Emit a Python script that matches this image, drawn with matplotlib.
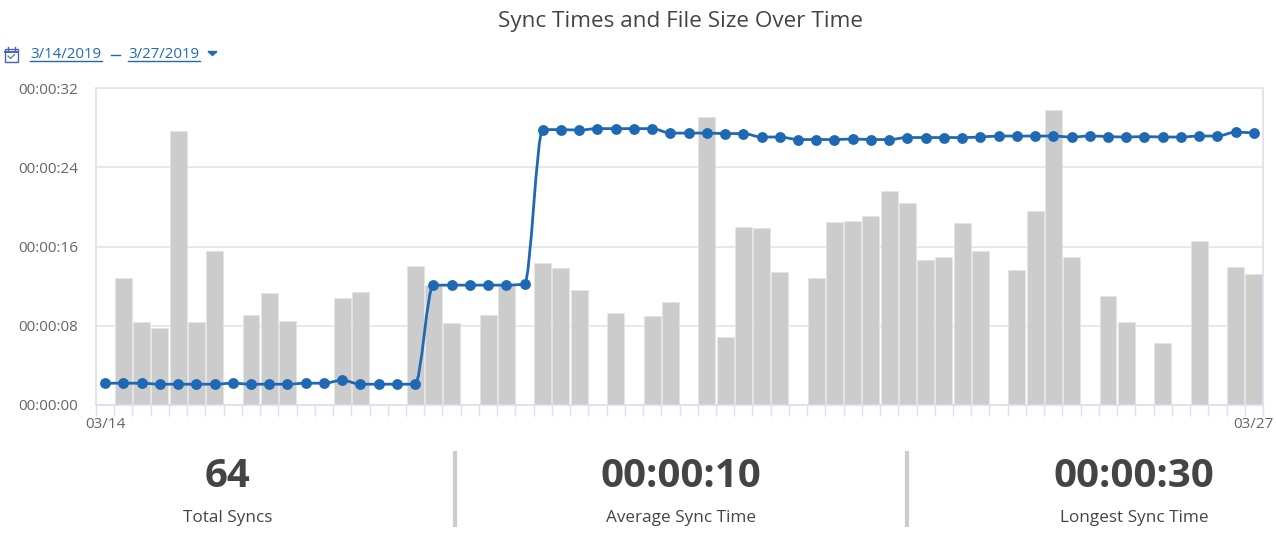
"""Sync times (line) and file size (bars) over time, with summary stats below."""
import numpy as np
import matplotlib
matplotlib.use('Agg')
import matplotlib.pyplot as plt
from matplotlib.patches import PathPatch, Polygon, Rectangle
from matplotlib.path import Path

plt.rcParams['font.family'] = ['Open Sans', 'DejaVu Sans']

W, H = 1276, 535
BLUE = '#1f68b4'
TEXT = '#444444'
AXIS = '#d9dfee'
GRID = '#e6e6e6'

# sync time per run, seconds
sync_times = [2.2, 2.2, 2.2, 2.1, 2.1, 2.1, 2.1, 2.2, 2.1, 2.1, 2.1, 2.2, 2.2, 2.5, 2.1, 2.1,
              2.1, 2.1, 12.1, 12.1, 12.1, 12.1, 12.1, 12.2, 27.8, 27.8, 27.75, 27.9, 27.9, 27.9,
              27.9, 27.45, 27.45, 27.45, 27.4, 27.4, 27.05, 27.05, 26.8, 26.8, 26.8, 26.85, 26.8,
              26.8, 27.0, 27.0, 27.0, 27.0, 27.05, 27.15, 27.15, 27.15, 27.15, 27.05, 27.15, 27.1,
              27.05, 27.1, 27.05, 27.05, 27.15, 27.15, 27.55, 27.45]

# file size per run, scaled to the time axis (0 = no bar)
file_sizes = [0, 12.8, 8.4, 7.8, 27.7, 8.4, 15.5, 0, 9.1, 11.3, 8.5, 0, 0, 10.8, 11.4, 0,
              0, 14.0, 12.1, 8.3, 0, 9.1, 12.1, 0, 14.3, 13.8, 11.6, 0, 9.3, 0,
              9.0, 10.4, 0, 29.1, 6.9, 18.0, 17.9, 13.4, 0, 12.8, 18.5, 18.6, 19.1,
              21.6, 20.4, 14.6, 14.9, 18.4, 15.5, 0, 13.6, 19.6, 29.8, 14.9, 0, 11.0,
              8.4, 0, 6.3, 0, 16.6, 0, 13.9, 13.2]

y_ticks = [0, 8, 16, 24, 32]
y_tick_labels = ['00:00:00', '00:00:08', '00:00:16', '00:00:24', '00:00:32']
x_tick_labels = ['03/14', '03/27']
stat_values = ['64', '00:00:10', '00:00:30']
stat_names = ['Total Syncs', 'Average Sync Time', 'Longest Sync Time']


def monotone_path(x, y):
    """Monotone cubic through the points, as bezier segments."""
    x, y = np.asarray(x, float), np.asarray(y, float)
    slope = np.diff(y) / np.diff(x)
    tan = np.zeros_like(y)
    for i in range(1, len(y) - 1):
        if slope[i - 1] * slope[i] > 0:
            tan[i] = 2 * slope[i - 1] * slope[i] / (slope[i - 1] + slope[i])
    tan[0], tan[-1] = slope[0], slope[-1]
    verts, codes = [(x[0], y[0])], [Path.MOVETO]
    for i in range(len(x) - 1):
        h = (x[i + 1] - x[i]) / 3
        verts += [(x[i] + h, y[i] + h * tan[i]), (x[i + 1] - h, y[i + 1] - h * tan[i + 1]), (x[i + 1], y[i + 1])]
        codes += [Path.CURVE4] * 3
    return Path(verts, codes)


fig = plt.figure(figsize=(W / 100, H / 100), dpi=100, facecolor='white')

# ── Main chart ────────────────────────────────────────────────────────────────
ax = fig.add_axes([96 / W, 1 - 405 / H, (1263 - 96) / W, (405 - 88) / H])
xs = np.arange(len(sync_times))

ax.bar(xs, file_sizes, width=0.93, color='#cccccc', edgecolor='#e4e4e4', linewidth=0.6, zorder=2)
ax.add_patch(PathPatch(monotone_path(xs, sync_times), fill=False, edgecolor=BLUE, linewidth=2.0, zorder=3))
ax.plot(xs, sync_times, linestyle='none', marker='o', markersize=7.8, color=BLUE,
        markeredgewidth=0, zorder=4)

ax.set_xlim(-0.5, 63.5)
ax.set_ylim(0, 32)
ax.set_yticks(y_ticks, y_tick_labels)
ax.set_xticks([0, 63], x_tick_labels)
ax.set_xticks(np.arange(-0.5, 64), minor=True)
ax.grid(True, axis='y', color=GRID, linewidth=1.3, zorder=0)
ax.set_axisbelow(True)
ax.tick_params(axis='y', length=0, pad=13, labelsize=11, labelcolor='#666666')
ax.tick_params(axis='x', which='major', length=0, pad=9, labelsize=11, labelcolor='#666666')
ax.tick_params(axis='x', which='minor', length=8, width=1, color=AXIS)
for side in ['left', 'right', 'bottom']:
    ax.spines[side].set_color(AXIS)
    ax.spines[side].set_linewidth(1.2)
ax.spines['top'].set_color(GRID)
ax.spines['top'].set_linewidth(1.2)

# ── Page furniture, drawn in pixel coordinates ────────────────────────────────
page = fig.add_axes([0, 0, 1, 1], zorder=-1)
page.set_xlim(0, W)
page.set_ylim(H, 0)
page.axis('off')

page.text(681, 22, 'Sync Times and File Size Over Time', ha='center', va='center', fontsize=16.2, color=TEXT)

# date range row
page.text(30, 55, '3/14/2019', ha='left', va='center', fontsize=10.8, color=BLUE)
page.plot([111, 120], [54.5, 54.5], color=BLUE, linewidth=1)
page.text(128, 55, '3/27/2019', ha='left', va='center', fontsize=10.8, color=BLUE)
page.plot([30, 102], [60.5, 60.5], color=BLUE, linewidth=1)
page.plot([128, 200], [60.5, 60.5], color=BLUE, linewidth=1)
page.add_patch(Polygon([(208, 51.5), (217, 51.5), (212.5, 55.5)], closed=True, color=BLUE))

# calendar icon
page.add_patch(Rectangle((5, 49), 12.5, 12.5, fill=False, edgecolor='#4b62b0', linewidth=1))
page.plot([5, 17.5], [52, 52], color='#4b62b0', linewidth=1.4)
page.plot([8, 8], [47, 50], color='#4b62b0', linewidth=1)
page.plot([14.5, 14.5], [47, 50], color='#4b62b0', linewidth=1)
page.plot([8, 10.5, 14.5], [56, 58.5, 54.5], color='#3a8a7a', linewidth=0.9)

# summary stats
for cx, value, name in zip([228, 681, 1134], stat_values, stat_names):
    page.text(cx, 476.5, value, ha='center', va='center', fontsize=29, fontweight='bold', color=TEXT)
    page.text(cx, 518, name, ha='center', va='center', fontsize=12.3, color=TEXT)
for sep_x in [454.5, 907]:
    page.plot([sep_x, sep_x], [451, 527], color='#cccccc', linewidth=3, solid_capstyle='butt')

fig.savefig('out.png', dpi=100, facecolor='white')
